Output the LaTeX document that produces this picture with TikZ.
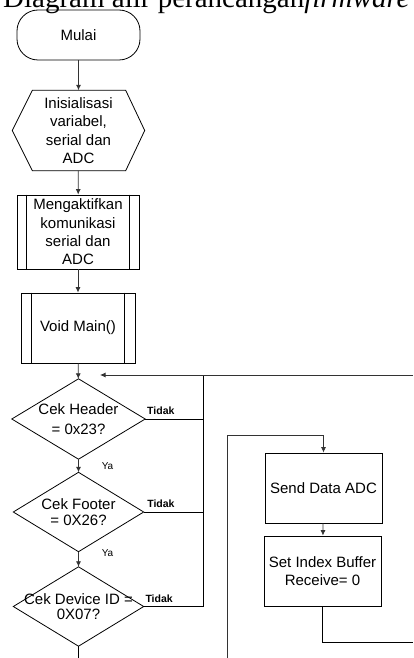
\documentclass[tikz,border=0pt]{standalone}
\usepackage{fontspec}
\setmainfont{Liberation Sans}
\newfontfamily\titlefont{Liberation Serif}
\usetikzlibrary{arrows.meta}
\begin{document}
\begin{tikzpicture}[x=1pt,y=-1pt,
  lbl/.style={font=\fontsize{15}{18.3}\selectfont, align=center, inner sep=0pt},
  shp/.style={lbl, minimum width=#1},
  arr/.style={draw=black!80, line width=0.8pt, -{Latex[length=5.5pt,width=5pt]}},
  ln/.style={draw=black, line width=0.8pt},
  tidak/.style={font=\fontsize{10.5}{12}\bfseries\selectfont, inner sep=0pt},
  ya/.style={font=\fontsize{10}{12}\selectfont, inner sep=0pt},
  outline/.style={draw=black, line width=0.8pt}
]
\useasboundingbox (0,0) rectangle (413,658);
\clip (0,0) rectangle (413,658);

% title (cut off at the top)
\node[anchor=base west, inner sep=0pt, font=\fontsize{29}{29}\titlefont] (title) at (3,7.5) {Diagram alir perancangan\textit{firmware}};

% start
\node[lbl, outline, rounded corners=21pt, minimum width=123pt, minimum height=50pt] (start) at (78.5,35) {Mulai};

% preparation (hexagon)
\node[lbl, minimum width=132pt, minimum height=80pt] (prep) at (78.5,130.5) {Inisialisasi\\variabel,\\serial dan\\ADC};
\draw[outline] ([xshift=20pt]prep.north west) -- ([xshift=-19pt]prep.north east) -- (prep.east)
  -- ([xshift=-19pt]prep.south east) -- ([xshift=20pt]prep.south west) -- (prep.west) -- cycle;

% subroutine 1
\node[lbl, outline, minimum width=122pt, minimum height=74pt] (sub) at (78,232) {Mengaktifkan\\komunikasi\\serial dan\\ADC};
\draw[outline] ([xshift=10pt]sub.north west) -- ([xshift=10pt]sub.south west);
\draw[outline] ([xshift=-10pt]sub.north east) -- ([xshift=-10pt]sub.south east);

% subroutine main
\node[lbl, outline, minimum width=114pt, minimum height=70pt] (main) at (78,328) {Void Main()};
\draw[outline] ([xshift=11pt]main.north west) -- ([xshift=11pt]main.south west);
\draw[outline] ([xshift=-11pt]main.north east) -- ([xshift=-11pt]main.south east);

% decisions
\node[lbl, font=\fontsize{15}{20}\selectfont, minimum width=133pt, minimum height=80pt] (d1) at (78.5,419) {Cek Header\\= 0x23?};
\draw[outline] (d1.north) -- (d1.east) -- (d1.south) -- (d1.west) -- cycle;
\node[lbl, font=\fontsize{15}{15.5}\selectfont, minimum width=130pt, minimum height=79pt] (d2) at (78.5,512) {Cek Footer\\= 0X26?};
\draw[outline] (d2.north) -- (d2.east) -- (d2.south) -- (d2.west) -- cycle;
\node[lbl, font=\fontsize{15}{15}\selectfont, minimum width=130pt, minimum height=79pt] (d3) at (78.5,606.5) {Cek Device ID =\\0X07?};
\draw[outline] (d3.north) -- (d3.east) -- (d3.south) -- (d3.west) -- cycle;

% right-hand boxes
\node[lbl, outline, minimum width=117pt, minimum height=70pt] (send) at (323.5,488) {Send Data ADC};
\node[lbl, outline, minimum width=117pt, minimum height=70pt] (setidx) at (322.5,571) {Set Index Buffer\\Receive= 0};

% helper coordinates
\coordinate (merge) at (100,375);
\coordinate (rx) at (203,375);
\coordinate (redge) at (413,375);
\coordinate (bot) at (78.5,658);
\coordinate (lpbot) at (227,658);
\coordinate (lptop) at (227,435);
\coordinate (sedge) at (413,642);

% main flow
\draw[arr] (start) -- (prep);
\draw[arr] (prep) -- (sub);
\draw[arr] (sub) -- (main);
\draw[arr] (main) -- (d1);
\draw[arr] (d1) -- node[ya, pos=0.55, xshift=29pt] {Ya} (d2);
\draw[arr] (d2) -- node[ya, pos=0.1, xshift=29pt] {Ya} (d3);
\draw[ln] (d3.south) -- (bot);

% "Tidak" branches
\draw[ln] (d1.east) -- node[tidak, above=4pt, pos=0.27] {Tidak} (d1.east -| rx);
\draw[ln] (d2.east) -- node[tidak, above=4pt, pos=0.29] {Tidak} (d2.east -| rx);
\draw[ln] (d3.east) -- node[tidak, above=4pt, pos=0.26] {Tidak} (d3.east -| rx) -- (rx);
\draw[arr] (redge) -- (merge);

% right loop
\draw[arr] (lpbot) -- (lptop) -| (send.north);
\draw[arr] (send) -- (setidx);
\draw[ln] (setidx.south) |- (sedge);
\end{tikzpicture}
\end{document}
